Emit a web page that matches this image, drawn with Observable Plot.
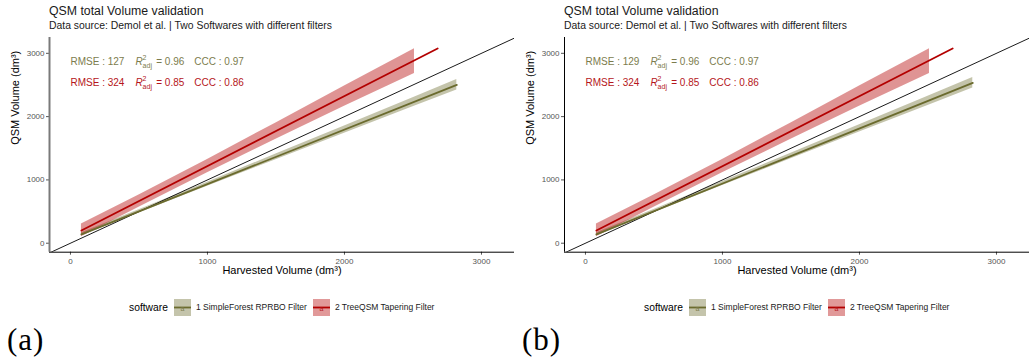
<!DOCTYPE html>
<html>
<head>
<meta charset="utf-8">
<script src="https://cdn.jsdelivr.net/npm/d3@7"></script>
<script src="https://cdn.jsdelivr.net/npm/@observablehq/plot@0.6"></script>
<style>
  html, body { margin: 0; padding: 0; background: #fff; }
  body { width: 1033px; height: 362px; position: relative; overflow: hidden;
         font-family: "Liberation Sans", Arial, sans-serif; color: #000; }
  .panel { position: absolute; top: 0; width: 516px; height: 362px; }
  .title { position: absolute; left: 49px; top: 4.5px; font-size: 12.3px; line-height: 1; white-space: nowrap; color: #1a1a1a; }
  .subtitle { position: absolute; left: 49px; top: 21px; font-size: 10.4px; line-height: 1; white-space: nowrap; color: #1a1a1a; }
  .chart { position: absolute; left: 0; top: 34px; }
  .legend { position: absolute; left: 129px; top: 298.5px; height: 17px; display: flex; align-items: center; white-space: nowrap; }
  .legend .lt { font-size: 10.3px; margin-right: 6px; }
  .legend .lab { font-size: 8.5px; margin-left: 5px; margin-right: 6px; color: #1a1a1a; }
  .legend svg { display: block; }
  .tag { position: absolute; left: 7px; top: 324px; font-family: "Liberation Serif", "DejaVu Serif", serif; font-size: 31px; line-height: 1; letter-spacing: 1px; font-weight: 300; }
</style>
</head>
<body>
<div id="pa" class="panel" style="left:0px"></div>
<div id="pb" class="panel" style="left:515px"></div>
<script>
// ---------- data ----------
const panelTags = ["(a)", "(b)"];
const titleText = "QSM total Volume validation";
const subtitleText = "Data source: Demol et al. | Two Softwares with different filters";
const xLabel = "Harvested Volume (dm³)";
const yLabel = "QSM Volume (dm³)";
const legendTitle = "software";
const softwares = ["1 SimpleForest RPRBO Filter", "2 TreeQSM Tapering Filter"];
const lineColors = ["#6b6b2e", "#b30000"];
const textColors = ["#7c7c4e", "#b5161b"];

const xTicks = [0, 1000, 2000, 3000];
const yTicks = [0, 1000, 2000, 3000];
const xDomain = [-153, 3241];
const yDomain = [-142, 3250];

// fitted lines (harvested -> QSM)
const sfFitX_a = [80, 2820];
const sfFitY_a = [140, 2502];
const sfFitX_b = [80, 2827];
const sfFitY_b = [140, 2534];
const tqFitX = [80, 2680];
const tqFitY = [200, 3076];

// confidence bands
const sfBandX_a = [80, 500, 1000, 1500, 2000, 2500, 2820];
const sfBandLo_a = [113, 477, 901, 1320, 1737, 2154, 2420];
const sfBandHi_a = [167, 527, 965, 1408, 1853, 2298, 2585];
const sfBandX_b = [80, 500, 1000, 1500, 2000, 2500, 2827];
const sfBandLo_b = [113, 481, 910, 1334, 1756, 2176, 2452];
const sfBandHi_b = [167, 531, 974, 1422, 1870, 2322, 2618];
const tqBandX = [80, 500, 1000, 1500, 2000, 2511];
const tqBandLo = [104, 570, 1112, 1641, 2164, 2682];
const tqBandHi = [302, 760, 1324, 1901, 2484, 3072];

// statistics
const rmse_a = [127, 324];
const rmse_b = [129, 324];
const r2adj = ["0.96", "0.85"];
const ccc = ["0.97", "0.86"];

// ---------- drawing ----------
function zipBand(xs, lo, hi) { return xs.map((x, i) => ({x, lo: lo[i], hi: hi[i]})); }
function zipLine(xs, ys) { return xs.map((x, i) => ({x, y: ys[i]})); }

function makePanel(el, cfg) {
  const root = document.getElementById(el);
  const t = document.createElement("div"); t.className = "title"; t.textContent = titleText; root.appendChild(t);
  const s = document.createElement("div"); s.className = "subtitle"; s.textContent = subtitleText; root.appendChild(s);

  const sfBand = zipBand(cfg.sfBandX, cfg.sfLo, cfg.sfHi);
  const tqBand = zipBand(tqBandX, tqBandLo, tqBandHi);
  const sfFit = zipLine(cfg.sfFitX, cfg.sfFitY);
  const tqFit = zipLine(tqFitX, tqFitY);
  const identity = [xDomain[0], Math.max(xDomain[1], yDomain[1])];
  const stats = [0, 1].map(i => ({i, rmse: cfg.rmse[i], r2: r2adj[i], ccc: ccc[i]}));

  const chart = Plot.plot({
    width: 516, height: 250,
    marginTop: 3, marginLeft: 49, marginRight: 2, marginBottom: 32.3,
    x: {domain: xDomain, ticks: xTicks, tickSize: 3, tickPadding: 3, tickFormat: d3.format("d"), label: null},
    y: {domain: yDomain, ticks: yTicks, tickSize: 3, tickPadding: 2, tickFormat: d3.format("d"), label: null},
    style: {fontFamily: "Liberation Sans, Arial, sans-serif", fontSize: "8px", color: "#555", background: "white", overflow: "visible"},
    marks: [
      Plot.areaY(sfBand, {x: "x", y1: "lo", y2: "hi", fill: lineColors[0], fillOpacity: 0.4}),
      Plot.areaY(tqBand, {x: "x", y1: "lo", y2: "hi", fill: lineColors[1], fillOpacity: 0.42}),
      Plot.line(identity, {x: d => d, y: d => d, stroke: "black", strokeWidth: 0.9, clip: true}),
      Plot.line(sfFit, {x: "x", y: "y", stroke: lineColors[0], strokeWidth: 1.8}),
      Plot.line(tqFit, {x: "x", y: "y", stroke: lineColors[1], strokeWidth: 1.8}),
      Plot.ruleX([xDomain[0]], {stroke: cfg.yAxisColor, strokeWidth: cfg.yAxisWidth}),
      Plot.ruleY([yDomain[0]], {stroke: "black", strokeWidth: 1}),
      Plot.text(stats, {x: () => 0, y: d => [2872, 2536][d.i], text: d => "RMSE : " + d.rmse,
        fill: d => textColors[d.i], textAnchor: "start", fontSize: 10}),
      Plot.text([xLabel], {text: d => d, frameAnchor: "bottom", dy: 21.5, fontSize: 11, fill: "black"}),
      Plot.text([yLabel], {text: d => d, frameAnchor: "left", dx: -34, rotate: -90, fontSize: 11, fill: "black"})
    ]
  });
  chart.classList.add("chart");
  root.appendChild(chart);

  // rich text for the statistics (R²adj with super/subscripts)
  const svgns = "http://www.w3.org/2000/svg";
  const statEls = Array.from(chart.querySelectorAll("text")).filter(e => e.textContent.startsWith("RMSE"));
  statEls.forEach((e, k) => {
    const d = stats[k];
    while (e.firstChild) e.removeChild(e.firstChild);
    const add = (txt, attrs) => {
      const ts = document.createElementNS(svgns, "tspan");
      ts.textContent = txt;
      for (const [a, v] of Object.entries(attrs || {})) ts.setAttribute(a, v);
      e.appendChild(ts);
    };
    add("RMSE : " + d.rmse);
    add("R", {dx: 11, "font-style": "italic"});
    add("2", {"font-size": 7, dy: -4.5});
    add("adj", {"font-size": 7, dx: -3.9, dy: 7.5});
    add(" = " + d.r2, {dy: -3, dx: 1.5});
    add("CCC : " + d.ccc, {dx: 10});
  });

  // legend
  const lg = document.createElement("div"); lg.className = "legend";
  const lt = document.createElement("span"); lt.className = "lt"; lt.textContent = legendTitle; lg.appendChild(lt);
  softwares.forEach((name, i) => {
    const key = d3.create("svg").attr("width", 17).attr("height", 17);
    key.append("rect").attr("width", 17).attr("height", 17).attr("fill", lineColors[i]).attr("fill-opacity", 0.4);
    key.append("line").attr("x1", 0).attr("x2", 17).attr("y1", 8.5).attr("y2", 8.5)
      .attr("stroke", lineColors[i]).attr("stroke-width", 1.8);
    key.append("text").attr("x", 8.5).attr("y", 12).attr("text-anchor", "middle")
      .attr("font-size", 7).attr("fill", textColors[i]).attr("font-family", "Liberation Sans, Arial").text("a");
    lg.appendChild(key.node());
    const lab = document.createElement("span"); lab.className = "lab"; lab.textContent = name; lg.appendChild(lab);
  });
  root.appendChild(lg);

  const tag = document.createElement("div"); tag.className = "tag"; tag.textContent = cfg.tag; root.appendChild(tag);
}

makePanel("pa", {tag: panelTags[0], sfBandX: sfBandX_a, sfLo: sfBandLo_a, sfHi: sfBandHi_a,
  sfFitX: sfFitX_a, sfFitY: sfFitY_a, rmse: rmse_a, yAxisColor: "#7a7a7a", yAxisWidth: 2});
makePanel("pb", {tag: panelTags[1], sfBandX: sfBandX_b, sfLo: sfBandLo_b, sfHi: sfBandHi_b,
  sfFitX: sfFitX_b, sfFitY: sfFitY_b, rmse: rmse_b, yAxisColor: "black", yAxisWidth: 1});
</script>
</body>
</html>
